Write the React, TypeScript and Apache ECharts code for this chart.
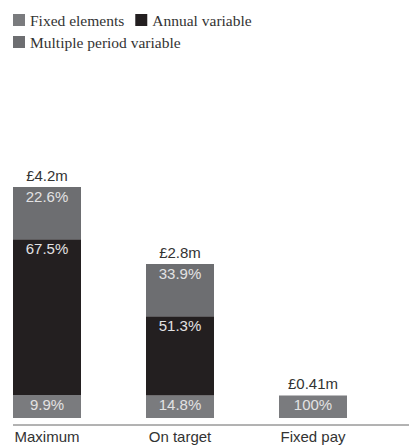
import React, { useEffect, useRef } from "react";
import * as echarts from "echarts";

const categories = ["Maximum", "On target", "Fixed pay"];
const totalLabels = ["£4.2m", "£2.8m", "£0.41m"];
// segment values in £m
const fixedVals = [0.42, 0.41, 0.41];
const annualVals = [2.83, 1.44, 0];
const multiVals = [0.95, 0.95, 0];
// segment labels
const fixedPct = ["9.9%", "14.8%", "100%"];
const annualPct = ["67.5%", "51.3%", ""];
const multiPct = ["22.6%", "33.9%", ""];

const SANS = "Liberation Sans, Arial, sans-serif";
const SERIF = "Liberation Serif, Times New Roman, serif";

export default function App() {
  const ref = useRef<HTMLDivElement>(null);
  useEffect(() => {
    const chart = echarts.init(ref.current!, null, { renderer: "svg" });
    const segLabel = (arr: string[]) => ({
      show: true,
      position: "insideTop",
      distance: 2,
      color: "#e2e2e3",
      fontFamily: SANS,
      fontSize: 15,
      formatter: (p: any) => arr[p.dataIndex],
    });
    const legendBase = {
      left: 13,
      padding: 0,
      icon: "rect",
      itemWidth: 12,
      itemHeight: 12,
      itemGap: 11,
      textStyle: { fontFamily: SERIF, fontSize: 15.5, color: "#333" },
    };
    chart.setOption({
      animation: false,
      legend: [
        { ...legendBase, top: 12, data: ["Fixed elements", "Annual variable"] },
        { ...legendBase, top: 34, data: ["Multiple period variable"] },
      ],
      grid: { left: -19.5, width: 399, top: 143, bottom: 28, outerBoundsMode: "none", containLabel: false },
      xAxis: {
        type: "category",
        data: categories,
        axisLine: { show: false },
        axisTick: { show: false },
        axisLabel: { margin: 11, fontFamily: SANS, fontSize: 15, color: "#333" },
      },
      yAxis: { type: "value", min: 0, max: 5, show: false, splitLine: { show: false } },
      series: [
        {
          name: "Fixed elements",
          type: "bar",
          stack: "s",
          barWidth: 68,
          data: fixedVals,
          itemStyle: { color: "#7a7b7e" },
          label: segLabel(fixedPct),
        },
        {
          name: "Annual variable",
          type: "bar",
          stack: "s",
          barWidth: 68,
          data: annualVals,
          itemStyle: { color: "#231f20" },
          label: segLabel(annualPct),
        },
        {
          name: "Multiple period variable",
          type: "bar",
          stack: "s",
          barWidth: 68,
          data: multiVals,
          itemStyle: { color: "#6d6e71" },
          label: segLabel(multiPct),
        },
        {
          name: "total",
          type: "bar",
          stack: "s",
          barWidth: 68,
          data: [0, 0, 0],
          itemStyle: { color: "transparent" },
          label: {
            show: true,
            position: "top",
            distance: 4,
            color: "#333",
            fontFamily: SANS,
            fontSize: 15,
            formatter: (p: any) => totalLabels[p.dataIndex],
          },
        },
      ],
      graphic: [
        {
          type: "line",
          shape: { x1: 13, y1: 425, x2: 409, y2: 425 },
          style: { stroke: "#666", lineWidth: 1 },
        },
      ],
    });
    return () => chart.dispose();
  }, []);
  return <div ref={ref} style={{ width: 412, height: 446, position: "absolute", left: 0, top: 0 }} />;
}
